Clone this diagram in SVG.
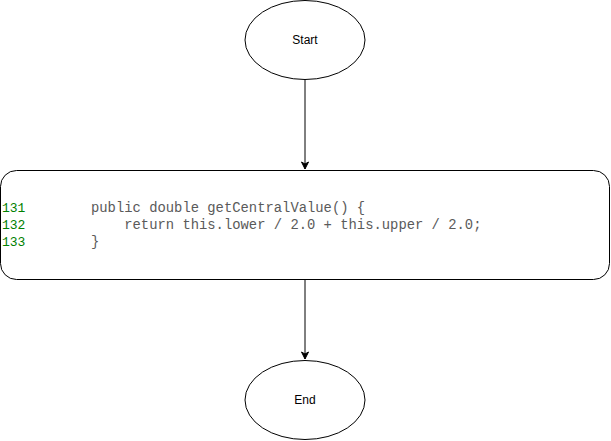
<svg xmlns="http://www.w3.org/2000/svg" width="611" height="441" viewBox="0 0 611 441">
<defs>
<style>
.shape{fill:#fff;stroke:#000;stroke-width:1}
.lbl{font-family:"Liberation Sans",Arial,sans-serif;font-size:12px;fill:#000;text-anchor:middle}
.ln{font-family:"Liberation Mono",monospace;font-size:13px;fill:#008000}
.code{font-family:"Liberation Mono","Courier New",monospace;font-size:13.85px;fill:#5a5a5a;white-space:pre}
.edge{fill:none;stroke:#000;stroke-width:1}
</style>
<marker id="arr" markerWidth="10" markerHeight="10" refX="8" refY="5" orient="auto" markerUnits="userSpaceOnUse">
<path d="M1,1.5 L8,5 L1,8.5 L3,5 Z" fill="#000" stroke="#000"/>
</marker>
</defs>
<g id="connectors">
<path class="edge" d="M305,80 L305,169" marker-end="url(#arr)"/>
<path class="edge" d="M305,280 L305,359" marker-end="url(#arr)"/>
</g>
<g id="start">
<ellipse class="shape" cx="305" cy="40" rx="60" ry="39.5"/>
<text class="lbl" x="305" y="44">Start</text>
</g>
<g id="code-block">
<rect class="shape" x="0.5" y="170.5" width="609" height="109" rx="16" ry="16"/>
<text class="ln" x="2" y="212">131</text>
<text class="ln" x="2" y="229">132</text>
<text class="ln" x="2" y="246">133</text>
<text class="code" x="91" y="212" xml:space="preserve">public double getCentralValue() {</text>
<text class="code" x="91" y="229" xml:space="preserve">    return this.lower / 2.0 + this.upper / 2.0;</text>
<text class="code" x="91" y="246" xml:space="preserve">}</text>
</g>
<g id="end">
<ellipse class="shape" cx="305" cy="400" rx="60" ry="39.5"/>
<text class="lbl" x="305" y="404">End</text>
</g>
</svg>
